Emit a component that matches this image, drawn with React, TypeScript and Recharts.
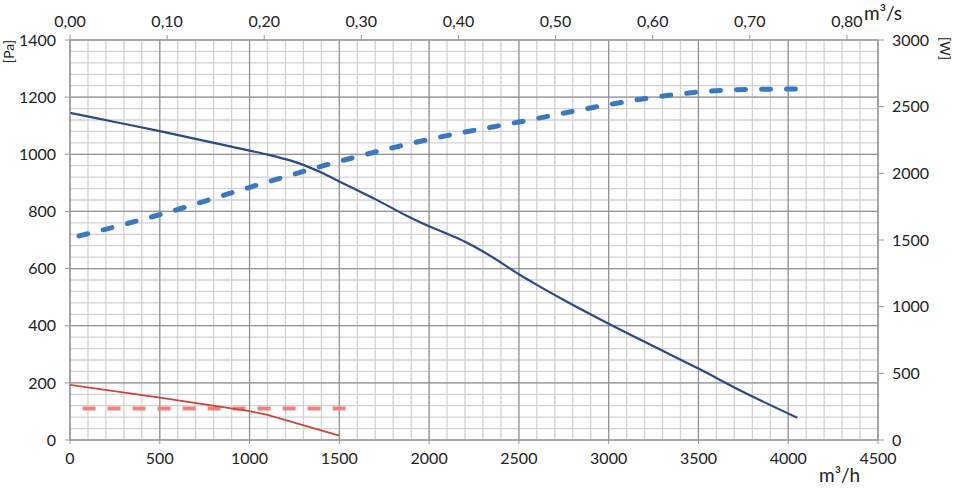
import { ComposedChart, Line, XAxis, YAxis, CartesianGrid } from 'recharts';

// axis ticks
const flowTicks = [0, 500, 1000, 1500, 2000, 2500, 3000, 3500, 4000, 4500];
const flowSecTicks = [0, 0.1, 0.2, 0.3, 0.4, 0.5, 0.6, 0.7, 0.8];
const pressureTicks = [0, 200, 400, 600, 800, 1000, 1200, 1400];
const powerTicks = [0, 500, 1000, 1500, 2000, 2500, 3000];

// fan curve: static pressure [Pa] vs flow [m3/h]
const pressureFlow = [0, 250, 500, 750, 1000, 1100, 1200, 1300, 1400, 1500, 1600, 1700, 1875, 2000, 2100, 2200, 2300, 2400, 2500, 2600, 2750, 3000, 3250, 3500, 3750, 4050];
const pressureValues = [1145, 1113, 1081, 1047, 1013, 999, 983, 963, 936, 905, 874, 843, 785, 748, 722, 694, 660, 621, 580, 543, 490, 407, 328, 250, 168, 78];

// power input [W]
const powerFlow = [50, 500, 1000, 1500, 2000, 2500, 3000, 3250, 3500, 3800, 4100];
const powerValues = [1530, 1690, 1895, 2090, 2255, 2385, 2515, 2570, 2610, 2630, 2632];

// small fan, pressure [Pa]
const smallFlow = [0, 500, 1000, 1100, 1500];
const smallValues = [193, 148, 101, 88, 15];

// small fan, flat line
const flatFlow = [70, 1560];
const flatValues = [110, 110];

const toRows = (xs: number[], ys: number[]) => xs.map((q, i) => ({ q, v: ys[i] }));

const minorX = Array.from({ length: 46 }, (_, i) => i * 100);
const minorY = Array.from({ length: 36 }, (_, i) => i * 40);

const font = 'Lato, "DejaVu Sans", sans-serif';
const tickStyle = { fill: '#222', fontSize: 16, fontFamily: font };

export default function App() {
  return (
    <div style={{ position: 'absolute', left: 0, top: 0, width: 954, height: 488, background: '#fff', fontFamily: font }}>
      <ComposedChart width={954} height={488} margin={{ top: 0, right: 0, bottom: 0, left: 0 }}>
        <CartesianGrid xAxisId="flow" yAxisId="pa" stroke="#d2d2d2" strokeWidth={1.3}
          verticalValues={minorX} horizontalValues={minorY} />
        <CartesianGrid xAxisId="flow" yAxisId="pa" stroke="#939393" strokeWidth={1.2}
          verticalValues={flowTicks} horizontalValues={pressureTicks} />
        <XAxis xAxisId="flow" type="number" dataKey="q" domain={[0, 4500]} ticks={flowTicks}
          orientation="bottom" height={48} tickSize={4} tickMargin={9} allowDataOverflow
          stroke="#999" tick={tickStyle} interval={0} />
        <XAxis xAxisId="sec" type="number" dataKey="q" domain={[0, 0.832]} ticks={flowSecTicks}
          orientation="top" height={40} tickSize={5} tickMargin={8} allowDataOverflow
          stroke="#999" tick={tickStyle} interval={0}
          tickFormatter={(v: number) => v.toFixed(2).replace('.', ',')} />
        <YAxis yAxisId="pa" type="number" domain={[0, 1400]} ticks={pressureTicks} width={70}
          tickSize={5} tickMargin={9} stroke="#999" tick={tickStyle} interval={0} />
        <YAxis yAxisId="w" orientation="right" type="number" domain={[0, 3000]} ticks={powerTicks}
          width={76} tickSize={6} tickMargin={8} stroke="#999" tick={tickStyle} interval={0} />
        <Line xAxisId="flow" yAxisId="pa" data={toRows(flatFlow, flatValues)} dataKey="v"
          stroke="#f0837d" strokeWidth={4} strokeDasharray="13 12" dot={false} isAnimationActive={false} />
        <Line xAxisId="flow" yAxisId="pa" data={toRows(smallFlow, smallValues)} dataKey="v" type="linear"
          stroke="#c8473a" strokeWidth={1.8} dot={false} isAnimationActive={false} />
        <Line xAxisId="flow" yAxisId="w" data={toRows(powerFlow, powerValues)} dataKey="v" type="monotone"
          stroke="#3a78c4" strokeWidth={5} strokeDasharray="9 16" strokeLinecap="round"
          dot={false} isAnimationActive={false} />
        <Line xAxisId="flow" yAxisId="pa" data={toRows(pressureFlow, pressureValues)} dataKey="v" type="monotone"
          stroke="#2a4a8a" strokeWidth={2.2} dot={false} isAnimationActive={false} />
      </ComposedChart>
      <div style={{ position: 'absolute', left: 864, top: 1, fontSize: 19, color: '#222' }}>m³/s</div>
      <div style={{ position: 'absolute', left: 819, top: 463, fontSize: 19, color: '#222' }}>m³/h</div>
      <div style={{ position: 'absolute', left: -3, top: 43, fontSize: 14, color: '#222', transform: 'rotate(-90deg)' }}>[Pa]</div>
      <div style={{ position: 'absolute', left: 934, top: 40, fontSize: 14, color: '#222', transform: 'rotate(90deg)' }}>[W]</div>
    </div>
  );
}
